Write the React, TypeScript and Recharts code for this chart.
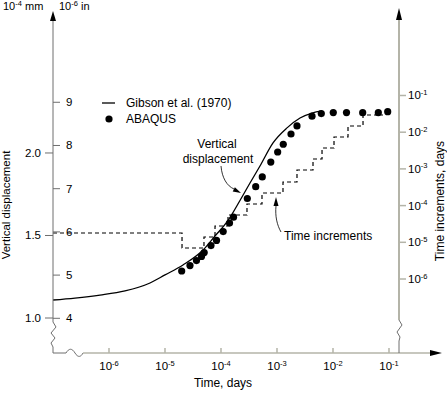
import React from 'react';
import { ComposedChart, Line, Scatter, XAxis, YAxis, Legend } from 'recharts';

const W = 447;
const H = 394;
const FONT = '"Liberation Sans", Arial, Helvetica, sans-serif';

// Gibson et al. (1970): log10(time, days) vs vertical displacement (10^-4 mm)
const gibsonLogTime = [-7.0, -6.607, -6.161, -5.714, -5.268, -5.0, -4.679, -4.321, -4.107, -3.893, -3.661, -3.482, -3.304, -3.071, -2.821, -2.589, -2.375, -2.196];
const gibsonDisp = [1.109, 1.121, 1.139, 1.164, 1.212, 1.261, 1.321, 1.412, 1.497, 1.582, 1.712, 1.818, 1.921, 2.061, 2.152, 2.212, 2.242, 2.255];

// ABAQUS results
const abaqusLogTime = [-4.702, -4.554, -4.438, -4.348, -4.3, -4.179, -4.08, -3.961, -3.848, -3.777, -3.53, -3.38, -3.263, -3.111, -2.988, -2.888, -2.75, -2.643, -2.375, -2.209, -1.995, -1.759, -1.47, -1.191, -1.023];
const abaqusDisp = [1.285, 1.318, 1.348, 1.373, 1.397, 1.439, 1.47, 1.524, 1.575, 1.611, 1.724, 1.796, 1.855, 1.945, 2.006, 2.053, 2.115, 2.164, 2.223, 2.239, 2.245, 2.245, 2.244, 2.244, 2.25];

// time increments: log10(time) where each increment starts, log10(increment, days)
const incLogTime = [-7.0, -4.696, -4.304, -4.107, -3.875, -3.536, -3.268, -2.893, -2.643, -2.357, -2.196, -1.982, -1.732, -1.464, -1.107];
const incLogStep = [-4.747, -5.155, -4.856, -4.556, -4.256, -3.956, -3.657, -3.357, -3.03, -2.73, -2.431, -2.131, -1.831, -1.531, -1.531];

const timeTicks = [-6, -5, -4, -3, -2, -1];
const mmTicks = [1.0, 1.5, 2.0];
const inchTicks = [4, 5, 6, 7, 8, 9];
const stepTicks = [-6, -5, -4, -3, -2, -1];

const legendNames = ['Gibson et al. (1970)', 'ABAQUS'];

const gibson = gibsonLogTime.map((t, i) => ({ t, mm: gibsonDisp[i] }));
const abaqus = abaqusLogTime.map((t, i) => ({ t, mm: abaqusDisp[i] }));
const increments = incLogTime.map((t, i) => ({ t, dt: incLogStep[i] }));

const AXIS_DARK = '#6e6e6e';
const AXIS_LIGHT = '#b4b4a8';

const Pow10 = ({ x, y, exp, anchor }: any) => (
	<text x={x} y={y} textAnchor={anchor} fontSize={11.5} fontFamily={FONT} fill="#000">
		10<tspan dy={-4.5} fontSize={7.5}>{exp}</tspan>
	</text>
);

const TimeTick = ({ x, y, payload }: any) => (
	<g>
		<line x1={x} x2={x} y1={y} y2={y - 5} stroke={AXIS_LIGHT} strokeWidth={1.5} />
		<Pow10 x={x} y={y + 17} exp={payload.value} anchor="middle" />
	</g>
);

const MmTick = ({ x, y, payload }: any) => (
	<g>
		<line x1={x - 8} x2={x} y1={y} y2={y} stroke={AXIS_DARK} />
		<text x={x - 12} y={y + 4} textAnchor="end" fontSize={11.5} fontFamily={FONT} fill="#000">
			{payload.value.toFixed(1)}
		</text>
	</g>
);

const InchTick = ({ x, y, payload }: any) => (
	<g>
		<line x1={x} x2={x + 7} y1={y} y2={y} stroke={AXIS_DARK} />
		<text x={x + 13} y={y + 4} textAnchor="start" fontSize={11.5} fontFamily={FONT} fill="#000">
			{payload.value}
		</text>
	</g>
);

const StepTick = ({ x, y, payload }: any) => (
	<g>
		<line x1={x} x2={x + 7} y1={y} y2={y} stroke={AXIS_LIGHT} strokeWidth={1.5} />
		<Pow10 x={x + 9} y={y + 4} exp={payload.value} anchor="start" />
	</g>
);

const Dot = ({ cx, cy }: any) => <circle cx={cx} cy={cy} r={3.6} fill="#000" />;

const renderLegend = ({ payload }: any) => {
	const items = legendNames
		.map((name) => (payload || []).find((p: any) => p.value === name))
		.filter(Boolean);
	return (
		<div style={{ fontFamily: FONT, fontSize: 12, color: '#000' }}>
			{items.map((entry: any) => (
				<div key={entry.value} style={{ display: 'flex', alignItems: 'center', height: 16 }}>
					<svg width={26} height={16}>
						{entry.value === legendNames[0] ? (
							<line x1={2} x2={15} y1={8} y2={8} stroke="#000" strokeWidth={1.3} />
						) : (
							<circle cx={9} cy={8} r={3.6} fill="#000" />
						)}
					</svg>
					<span style={{ lineHeight: '16px' }}>{entry.value}</span>
				</div>
			))}
		</div>
	);
};

const Decorations = () => (
	<svg width={W} height={H} style={{ position: 'absolute', left: 0, top: 0, pointerEvents: 'none' }}>
		{/* left axis with break */}
		<path d="M53,20 L53,322 L56,327 L51,333 L55,338 L51,343 L53,347 L53,353 L66,353" fill="none" stroke={AXIS_DARK} strokeWidth={1} />
		<polygon points="53,11 50,21 56,21" fill="#000" />
		{/* x axis with break */}
		<path d="M66,353 C69,348 72,348 75,353 S81,357 83,353" fill="none" stroke={AXIS_DARK} strokeWidth={1} />
		<line x1={83} x2={432} y1={353} y2={353} stroke={AXIS_LIGHT} strokeWidth={1.5} />
		<polygon points="442,353 430,350 430,356" fill="#000" />
		{/* right axis with break */}
		<line x1={399} x2={399} y1={18} y2={320} stroke={AXIS_LIGHT} strokeWidth={2} />
		<path d="M399,320 L402,325 L397,332 L400,337 L399,341 L399,353" fill="none" stroke={AXIS_DARK} strokeWidth={1} />
		<polygon points="399,8 396,20 402,20" fill="#000" />

		{/* units */}
		<text x={3} y={10} fontSize={11} fontFamily={FONT}>
			10<tspan dy={-4} fontSize={7.5}>-4</tspan><tspan dy={4}> mm</tspan>
		</text>
		<text x={59} y={10} fontSize={11} fontFamily={FONT}>
			10<tspan dy={-4} fontSize={7.5}>-6</tspan><tspan dy={4}> in</tspan>
		</text>

		{/* axis titles */}
		<text x={10} y={205} fontSize={11.5} fontFamily={FONT} textAnchor="middle" transform="rotate(-90 10 205)">
			Vertical displacement
		</text>
		<text x={444} y={201} fontSize={12} fontFamily={FONT} textAnchor="middle" transform="rotate(-90 444 201)">
			Time increments, days
		</text>
		<text x={223} y={387} fontSize={12} fontFamily={FONT} textAnchor="middle">
			Time, days
		</text>

		{/* annotations */}
		<text x={217} y={148} fontSize={12} fontFamily={FONT} textAnchor="middle">Vertical</text>
		<text x={218} y={163} fontSize={12} fontFamily={FONT} textAnchor="middle">displacement</text>
		<path d="M221,166 C222,178 227,186 234,189" fill="none" stroke="#000" strokeWidth={0.8} />
		<polygon points="241,193 232.7,191.6 234.9,187.2" fill="#000" />

		<path d="M281,232 C277,225 275,216 276,206" fill="none" stroke="#000" strokeWidth={0.8} />
		<polygon points="276,197 273.5,206 278.5,206" fill="#000" />
		<text x={284} y={240} fontSize={12} fontFamily={FONT}>Time increments</text>
	</svg>
);

export default function App() {
	return (
		<div style={{ position: 'absolute', left: 0, top: 0, width: W, height: H, fontFamily: FONT, background: '#fff' }}>
			<ComposedChart width={W} height={H} margin={{ top: 15, right: 3, bottom: 11, left: 23 }}>
				<XAxis
					type="number"
					dataKey="t"
					domain={[-7, -0.8214]}
					ticks={timeTicks}
					height={30}
					axisLine={false}
					tickLine={false}
					tickSize={0}
					tickMargin={0}
					tick={<TimeTick />}
					allowDataOverflow
				/>
				<YAxis
					yAxisId="mm"
					type="number"
					dataKey="mm"
					domain={[0.788, 2.836]}
					ticks={mmTicks}
					width={30}
					axisLine={false}
					tickLine={false}
					tickSize={0}
					tickMargin={0}
					tick={<MmTick />}
					allowDataOverflow
				/>
				<YAxis
					yAxisId="in"
					type="number"
					domain={[3.197, 11.02]}
					ticks={inchTicks}
					mirror
					width={30}
					axisLine={false}
					tickLine={false}
					tickSize={0}
					tickMargin={0}
					tick={<InchTick />}
					allowDataOverflow
				/>
				<YAxis
					yAxisId="dt"
					orientation="right"
					type="number"
					dataKey="dt"
					domain={[-8.016, 1.193]}
					ticks={stepTicks}
					width={45}
					axisLine={false}
					tickLine={false}
					tickSize={0}
					tickMargin={0}
					tick={<StepTick />}
					allowDataOverflow
				/>
				<Line
					yAxisId="dt"
					data={increments}
					dataKey="dt"
					name="Time increments"
					type="stepAfter"
					stroke="#000"
					strokeWidth={1.2}
					strokeDasharray="4 3"
					dot={false}
					legendType="none"
					isAnimationActive={false}
				/>
				<Line
					yAxisId="mm"
					data={gibson}
					dataKey="mm"
					name="Gibson et al. (1970)"
					type="monotone"
					stroke="#000"
					strokeWidth={1.3}
					dot={false}
					legendType="line"
					isAnimationActive={false}
				/>
				<Scatter
					yAxisId="mm"
					data={abaqus}
					dataKey="mm"
					name="ABAQUS"
					shape={<Dot />}
					legendType="circle"
					isAnimationActive={false}
				/>
				<Legend
					layout="vertical"
					align="center"
					verticalAlign="middle"
					wrapperStyle={{ left: 100, top: 95, width: 170 }}
					content={renderLegend}
				/>
			</ComposedChart>
			<Decorations />
		</div>
	);
}
